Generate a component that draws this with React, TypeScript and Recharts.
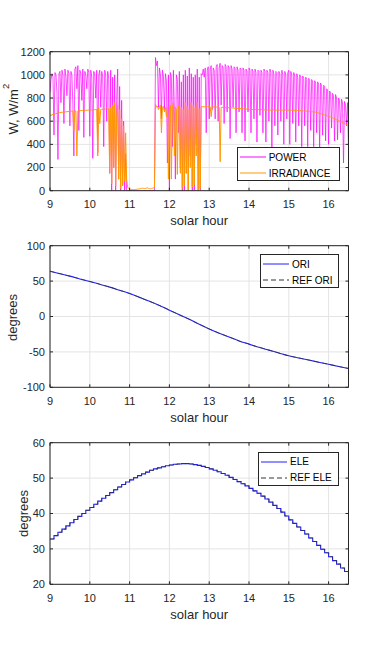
import React from 'react';
import { LineChart, Line, XAxis, YAxis, CartesianGrid, Legend } from 'recharts';

const HOUR_TICKS = [9, 10, 11, 12, 13, 14, 15, 16];
const POWER_TICKS = [0, 200, 400, 600, 800, 1000, 1200];
const ORI_TICKS = [-100, -50, 0, 50, 100];
const ELE_TICKS = [20, 30, 40, 50, 60];

// power (W) and irradiance (W/m2), one sample every 0.025 h from 9.0 to 16.5
const PWR_STEP = 0.025;
const power = [
  850, 960, 1010, 980, 480, 1020, 1000, 850, 270, 1010, 1030, 760,
  1040, 1000, 580, 1050, 990, 820, 1040, 1010, 560, 1030, 1000, 740,
  300, 1050, 1070, 880, 1080, 520, 1040, 1010, 780, 1050, 460, 1030,
  1000, 880, 1050, 1020, 470, 1040, 980, 280, 1030, 1000, 800, 1040,
  330, 1000, 1040, 720, 1030, 980, 380, 1040, 1000, 600, 1030, 970,
  150, 1040, 0, 980, 200, 1000, 0, 780, 1050, 100, 900, 0,
  780, 50, 600, 0, 320, 0, 0, 0, 0, 0, 0, 0,
  0, 0, 0, 0, 0, 0, 0, 0, 0, 0, 0, 0,
  0, 0, 0, 0, 0, 0, 0, 0, 0, 0, 1150, 1080,
  1120, 720, 1060, 1000, 620, 1040, 990, 700, 1010, 950, 240, 1000,
  0, 1020, 980, 380, 1040, 700, 100, 1000, 960, 500, 1030, 200,
  940, 0, 1000, 0, 1040, 150, 990, 0, 1060, 300, 1010, 0,
  980, 0, 1000, 400, 1050, 0, 980, 0, 1010, 1000, 1050, 980,
  1060, 500, 1040, 1070, 620, 1050, 1080, 700, 1060, 1040, 620, 1070,
  1090, 600, 1060, 1100, 740, 1080, 1060, 580, 1090, 1070, 680, 1080,
  1060, 450, 1080, 1050, 720, 1070, 1060, 500, 1070, 1040, 680, 1060,
  1050, 500, 1060, 1040, 430, 1050, 1030, 680, 1060, 1040, 500, 1050,
  1030, 620, 1050, 1020, 420, 1040, 1030, 650, 1040, 1020, 500, 1050,
  1030, 420, 1040, 1020, 600, 1050, 1020, 360, 1040, 1010, 560, 1030,
  1020, 480, 1030, 1010, 600, 1040, 1000, 400, 1030, 1000, 620, 1020,
  1040, 400, 1030, 1000, 580, 1020, 990, 420, 1010, 980, 560, 1000,
  980, 380, 990, 970, 560, 980, 960, 380, 970, 950, 520, 960,
  940, 380, 950, 930, 500, 940, 920, 340, 930, 900, 480, 910,
  900, 430, 880, 870, 400, 860, 850, 540, 840, 820, 430, 830,
  800, 440, 800, 780, 500, 790, 760, 240, 770, 740, 560, 760,
  360,
];
const irradiance = [
  650, 652, 655, 658, 660, 662, 665, 668, 670, 672, 674, 676,
  677, 678, 679, 680, 681, 682, 683, 684, 685, 686, 687, 688,
  520, 690, 690, 300, 690, 690, 691, 692, 692, 693, 693, 694,
  694, 695, 695, 696, 697, 697, 698, 698, 699, 700, 700, 701,
  300, 720, 580, 702, 702, 703, 703, 704, 704, 705, 705, 706,
  150, 720, 60, 740, 200, 760, 40, 650, 740, 100, 700, 20,
  620, 40, 560, 80, 500, 100, 30, 20, 15, 12, 10, 10,
  10, 10, 10, 12, 14, 15, 16, 18, 20, 22, 20, 18,
  20, 22, 25, 20, 18, 16, 20, 22, 25, 30, 750, 720,
  730, 700, 720, 740, 500, 720, 730, 680, 720, 640, 720, 100,
  700, 740, 100, 720, 760, 300, 720, 700, 140, 730, 720, 150,
  720, 20, 700, 40, 760, 150, 730, 0, 700, 200, 760, 30,
  740, 50, 720, 300, 760, 0, 710, 20, 724, 726, 725, 725,
  726, 725, 724, 726, 725, 724, 640, 724, 724, 723, 723, 722,
  722, 722, 721, 250, 720, 720, 719, 719, 718, 718, 717, 717,
  716, 716, 715, 714, 714, 713, 712, 712, 711, 710, 710, 709,
  708, 708, 707, 706, 706, 705, 704, 704, 703, 702, 702, 701,
  701, 700, 700, 700, 699, 699, 700, 700, 700, 700, 699, 698,
  698, 698, 697, 697, 696, 696, 696, 697, 697, 697, 696, 696,
  696, 696, 696, 695, 695, 696, 696, 697, 697, 696, 696, 696,
  696, 696, 695, 695, 694, 694, 693, 693, 692, 692, 691, 691,
  690, 690, 689, 689, 688, 688, 687, 686, 686, 685, 684, 683,
  682, 680, 679, 677, 675, 673, 670, 668, 665, 662, 660, 657,
  654, 651, 648, 645, 645, 640, 636, 632, 628, 624, 620, 616,
  612, 608, 604, 600, 596, 592, 588, 584, 580, 576, 572, 568,
  566,
];

// orientation (deg), every 0.25 h
const ORI_STEP = 0.25;
const ori = [
  64, 60.5, 57, 53, 49.5, 45.5, 41.5, 37, 32.5, 27, 21.5, 15.5, 9, 2.5, -4, -11,
  -17.5, -23.5, -29, -34.5, -39, -43.5, -47.5, -51.5, -55.5, -58.5, -61.5, -64.5, -67.5, -70.5, -73.5,
];
const refOri = [
  64, 60.5, 57, 53, 49.5, 45.5, 41.5, 37, 32.5, 27, 21.5, 15.5, 9, 2.5, -4, -11,
  -17.5, -23.5, -29, -34.5, -39, -43.5, -47.5, -51.5, -55.5, -58.5, -61.5, -64.5, -67.5, -70.5, -73.5,
];

// elevation (deg), every 0.1 h
const ELE_STEP = 0.1;
const ele = [
  32.8, 33.75, 34.7, 35.6, 36.5, 37.4, 38.3, 39.2, 40.0, 40.9,
  41.7, 42.6, 43.5, 44.3, 45.1, 45.9, 46.7, 47.5, 48.2, 48.9,
  49.5, 50.1, 50.7, 51.2, 51.7, 52.2, 52.6, 52.9, 53.2, 53.5,
  53.7, 53.9, 54.0, 54.1, 54.1, 54.0, 53.8, 53.6, 53.3, 53.0,
  52.6, 52.2, 51.8, 51.3, 50.8, 50.2, 49.6, 49.0, 48.4, 47.8,
  47.1, 46.4, 45.7, 44.9, 44.1, 43.2, 42.3, 41.4, 40.4, 39.3,
  38.2, 37.2, 36.2, 35.2, 34.2, 33.1, 32.1, 31.0, 29.9, 28.9,
  27.8, 26.7, 25.7, 24.6, 23.6, 22.6,
];
const refEle = [
  32.8, 33.75, 34.7, 35.6, 36.5, 37.4, 38.3, 39.2, 40.0, 40.9,
  41.7, 42.6, 43.5, 44.3, 45.1, 45.9, 46.7, 47.5, 48.2, 48.9,
  49.5, 50.1, 50.7, 51.2, 51.7, 52.2, 52.6, 52.9, 53.2, 53.5,
  53.7, 53.9, 54.0, 54.1, 54.1, 54.0, 53.8, 53.6, 53.3, 53.0,
  52.6, 52.2, 51.8, 51.3, 50.8, 50.2, 49.6, 49.0, 48.4, 47.8,
  47.1, 46.4, 45.7, 44.9, 44.1, 43.2, 42.3, 41.4, 40.4, 39.3,
  38.2, 37.2, 36.2, 35.2, 34.2, 33.1, 32.1, 31.0, 29.9, 28.9,
  27.8, 26.7, 25.7, 24.6, 23.6, 22.6,
];

const powerData = power.map((p, i) => ({ hour: 9 + i * PWR_STEP, power: p, irradiance: irradiance[i] }));
const oriData = ori.map((v, i) => ({ hour: 9 + i * ORI_STEP, ori: v, refOri: refOri[i] }));
const eleData = ele.map((v, i) => ({ hour: 9 + i * ELE_STEP, ele: v, refEle: refEle[i] }));

const INK = '#262626';
const GRID = '#e4e4e4';
const FONT = "'Liberation Sans', Arial, Helvetica, sans-serif";
const CHART_H = 230;
const MARGIN_TOP = 50.7;
const X_AXIS_H = 30;

type Series = {
  key: string;
  name: string;
  color: string;
  width: number;
  dash?: string;
  type: 'linear' | 'monotone' | 'stepAfter';
};

type PanelProps = {
  top: number;
  data: any[];
  series: Series[];
  yDomain: [number, number];
  yTicks: number[];
  plotHeight: number;
  yLabel: React.ReactNode;
  labelX: number;
  labelShift: number;
  legend: { left: number; top: number; width: number };
};

function Panel({ top, data, series, yDomain, yTicks, plotHeight, yLabel, labelX, labelShift, legend }: PanelProps) {
  const marginBottom = CHART_H - MARGIN_TOP - 1 - plotHeight - X_AXIS_H;
  const tick = { fontSize: 11, fill: INK, fontFamily: FONT };

  const renderYLabel = (props: any) => {
    const vb = props.viewBox || {};
    const cy = vb.y + vb.height / 2 + labelShift;
    return (
      <text x={labelX} y={cy} transform={`rotate(-90, ${labelX}, ${cy})`} textAnchor="middle"
        fontSize={13} fill={INK} fontFamily={FONT}>
        {yLabel}
      </text>
    );
  };

  const renderXLabel = (props: any) => {
    const vb = props.viewBox || {};
    return (
      <text x={vb.x + vb.width / 2} y={vb.y + 34.3} textAnchor="middle" fontSize={13} fill={INK} fontFamily={FONT}>
        solar hour
      </text>
    );
  };

  const renderLegend = () => (
    <div style={{
      width: legend.width, height: 34, boxSizing: 'border-box', border: `1px solid ${INK}`,
      background: '#fff', paddingTop: 1, fontFamily: FONT, fontSize: 10, color: '#000',
    }}>
      {series.map((s) => (
        <div key={s.key} style={{ display: 'flex', alignItems: 'center', height: 16 }}>
          <svg width={31} height={16} style={{ flex: 'none' }}>
            <line x1={2} x2={28} y1={8} y2={8} stroke={s.color} strokeWidth={1} strokeDasharray={s.dash} />
          </svg>
          <span style={{ whiteSpace: 'nowrap' }}>{s.name}</span>
        </div>
      ))}
    </div>
  );

  return (
    <div style={{ position: 'absolute', left: 0, top }}>
      <LineChart width={385} height={CHART_H} data={data}
        margin={{ top: MARGIN_TOP, right: 35.5, bottom: marginBottom, left: 0 }}>
        <CartesianGrid stroke={GRID} strokeWidth={1} />
        {series.map((s) => (
          <Line key={s.key} type={s.type} dataKey={s.key} name={s.name} stroke={s.color}
            strokeWidth={s.width} strokeDasharray={s.dash} dot={false} activeDot={false}
            isAnimationActive={false} />
        ))}
        <XAxis dataKey="hour" type="number" domain={[9, 16.5]} ticks={HOUR_TICKS} interval={0}
          allowDataOverflow height={X_AXIS_H} tickSize={-3} tickMargin={12.8} tick={tick}
          axisLine={{ stroke: INK }} tickLine={{ stroke: INK }} label={{ content: renderXLabel }} />
        <XAxis xAxisId="top" orientation="top" dataKey="hour" type="number" domain={[9, 16.5]}
          ticks={HOUR_TICKS} interval={0} allowDataOverflow height={1} tickSize={-3}
          tickFormatter={() => ''} axisLine={{ stroke: INK }} tickLine={{ stroke: INK }} />
        <YAxis type="number" domain={yDomain} ticks={yTicks} interval={0} allowDataOverflow width={50}
          tickSize={-3} tickMargin={8} tick={tick} axisLine={{ stroke: INK }} tickLine={{ stroke: INK }}
          label={{ content: renderYLabel }} />
        <YAxis yAxisId="right" orientation="right" type="number" domain={yDomain} ticks={yTicks}
          interval={0} allowDataOverflow width={1} tickSize={-3} tickFormatter={() => ''}
          axisLine={{ stroke: INK }} tickLine={{ stroke: INK }} />
        <Legend content={renderLegend} layout="vertical" align="center" verticalAlign="middle"
          wrapperStyle={{ left: legend.left, top: legend.top, width: legend.width }} />
      </LineChart>
    </div>
  );
}

export default function App() {
  return (
    <div style={{ position: 'absolute', left: 0, top: 0, width: 385, height: 657, background: '#fff' }}>
      <Panel
        top={0}
        data={powerData}
        series={[
          { key: 'power', name: 'POWER', color: '#ff00ff', width: 0.7, type: 'linear' },
          { key: 'irradiance', name: 'IRRADIANCE', color: '#ff9900', width: 1, type: 'linear' },
        ]}
        yDomain={[0, 1200]}
        yTicks={POWER_TICKS}
        plotHeight={139}
        yLabel={<>W, W/m<tspan dy={-9} fontSize={9.5}>2</tspan></>}
        labelX={18}
        labelShift={-12}
        legend={{ left: 236.7, top: 147.3, width: 103 }}
      />
      <Panel
        top={194}
        data={oriData}
        series={[
          { key: 'ori', name: 'ORI', color: '#2020ff', width: 1.1, type: 'monotone' },
          { key: 'refOri', name: 'REF ORI', color: '#333333', width: 0.7, dash: '5 3', type: 'monotone' },
        ]}
        yDomain={[-100, 100]}
        yTicks={ORI_TICKS}
        plotHeight={141.6}
        yLabel="degrees"
        labelX={16.5}
        labelShift={1}
        legend={{ left: 260, top: 60.3, width: 79 }}
      />
      <Panel
        top={391}
        data={eleData}
        series={[
          { key: 'ele', name: 'ELE', color: '#2020ff', width: 1.1, type: 'stepAfter' },
          { key: 'refEle', name: 'REF ELE', color: '#333333', width: 0.7, dash: '5 3', type: 'stepAfter' },
        ]}
        yDomain={[20, 60]}
        yTicks={ELE_TICKS}
        plotHeight={141.6}
        yLabel="degrees"
        labelX={27.5}
        labelShift={0}
        legend={{ left: 258, top: 60.7, width: 81 }}
      />
    </div>
  );
}
